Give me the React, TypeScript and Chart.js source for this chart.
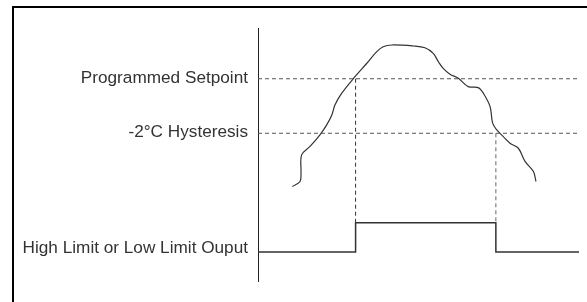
import React, { useEffect, useRef } from "react";
import { Chart, registerables } from "chart.js";

Chart.register(...registerables);

// Axis label texts and the y values they sit at
const axisLabels = ["Programmed Setpoint", "-2°C Hysteresis", "High Limit or Low Limit Ouput"];
const axisLabelValues = [80, 58.8, 13];

// Reference levels
const setpointLevel = 80;
const hysteresisLevel = 58.5;
const outputLow = 11.7;
const outputHigh = 23.2;
const switchOnTime = 30.4;
const switchOffTime = 74.1;
const levelLineEnd = 99.7;
const timeEnd = 100;

// Temperature curve (time, temperature)
const curveTime = [
  10.7, 13.1, 13.4, 13.6, 16.2, 19.3, 21.4, 23.0, 24.0, 26.1, 30.2, 33.9, 37.0, 39.0, 41.7,
  48.4, 52.0, 54.6, 56.2, 57.7, 59.8, 62.4, 65.5, 68.6, 70.2, 72.3, 73.1, 74.4, 76.4, 78.5,
  81.1, 83.2, 85.8, 86.6,
];
const curveTemp = [
  37.5, 39.5, 42.8, 50.0, 53.3, 57.9, 61.8, 65.7, 69.7, 74.3, 80.8, 86.1, 90.7, 92.6, 93.3,
  92.9, 92.2, 90.0, 86.7, 84.1, 81.8, 80.2, 76.9, 76.5, 74.3, 69.0, 62.5, 59.8, 57.2, 54.6,
  52.6, 47.4, 43.4, 39.5,
];

const FONT = '"Liberation Sans", Arial, sans-serif';

export default function App() {
  const ref = useRef<HTMLCanvasElement | null>(null);

  useEffect(() => {
    if (!ref.current) return;

    const framePlugin = {
      id: "frame",
      beforeDraw(chart: any) {
        const ctx = chart.ctx;
        ctx.save();
        ctx.fillStyle = "#fff";
        ctx.fillRect(0, 0, chart.width, chart.height);
        ctx.strokeStyle = "#000";
        ctx.lineWidth = 2;
        ctx.beginPath();
        ctx.moveTo(13, chart.height);
        ctx.lineTo(13, 7);
        ctx.lineTo(chart.width, 7);
        ctx.stroke();
        ctx.restore();
      },
    };

    const curve = curveTime.map((t, i) => ({ x: t, y: curveTemp[i] }));
    const dashStyle = {
      borderColor: "#555",
      borderWidth: 1,
      borderDash: [4, 3],
      pointRadius: 0,
      showLine: true,
      clip: false as any,
    };

    const chart = new Chart(ref.current, {
      type: "scatter",
      data: {
        datasets: [
          {
            ...dashStyle,
            data: [
              { x: 0, y: setpointLevel },
              { x: levelLineEnd, y: setpointLevel },
            ],
          },
          {
            ...dashStyle,
            data: [
              { x: 0, y: hysteresisLevel },
              { x: levelLineEnd, y: hysteresisLevel },
            ],
          },
          {
            ...dashStyle,
            borderColor: "#333",
            data: [
              { x: switchOnTime, y: setpointLevel },
              { x: switchOnTime, y: outputHigh },
            ],
          },
          {
            ...dashStyle,
            borderColor: "#666",
            data: [
              { x: switchOffTime, y: hysteresisLevel },
              { x: switchOffTime, y: outputHigh },
            ],
          },
          {
            data: [
              { x: 0, y: outputLow },
              { x: switchOnTime, y: outputLow },
              { x: switchOnTime, y: outputHigh },
              { x: switchOffTime, y: outputHigh },
              { x: switchOffTime, y: outputLow },
              { x: timeEnd, y: outputLow },
            ],
            borderColor: "#333",
            borderWidth: 1.5,
            pointRadius: 0,
            showLine: true,
            clip: false as any,
          },
          {
            data: curve,
            borderColor: "#333",
            borderWidth: 1.2,
            pointRadius: 0,
            showLine: true,
            tension: 0.35,
            clip: false as any,
          },
        ],
      },
      options: {
        animation: false,
        responsive: false,
        maintainAspectRatio: false,
        layout: { padding: { left: 22, top: 28, bottom: 20, right: 8 } },
        plugins: {
          legend: { display: false },
          tooltip: { enabled: false },
        },
        scales: {
          x: {
            type: "linear",
            min: 0,
            max: timeEnd,
            display: false,
          },
          y: {
            type: "linear",
            min: 0,
            max: 100,
            grid: { display: false, drawTicks: false },
            border: { display: true, color: "#222", width: 1 },
            afterBuildTicks: (axis: any) => {
              axis.ticks = axisLabelValues.map((v) => ({ value: v }));
            },
            afterFit: (axis: any) => {
              axis.width = 236;
            },
            ticks: {
              autoSkip: false,
              padding: 10,
              color: "#333",
              font: { family: FONT, size: 17.2 },
              callback: (_v: any, i: number) => axisLabels[i],
            },
          },
        },
      },
      plugins: [framePlugin],
    });

    return () => chart.destroy();
  }, []);

  return (
    <div style={{ position: "fixed", left: 0, top: 0, width: 587, height: 302, background: "#fff" }}>
      <canvas ref={ref} width={587} height={302} style={{ width: 587, height: 302, display: "block" }} />
    </div>
  );
}
